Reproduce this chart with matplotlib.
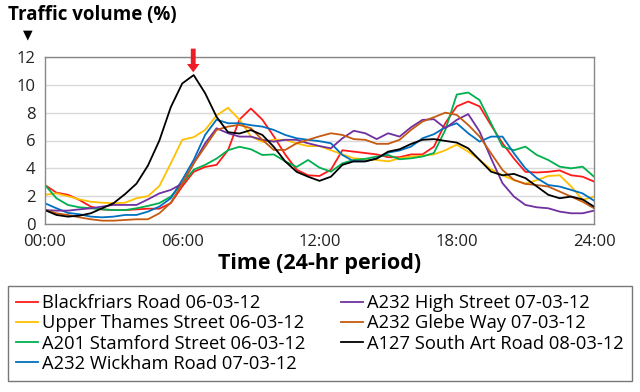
import numpy as np
import matplotlib
matplotlib.use("Agg")
import matplotlib.pyplot as plt

plt.rcParams['font.family'] = ['Open Sans', 'DejaVu Sans']

hours = np.arange(0, 24.01, 0.5)

names = ["Blackfriars Road 06-03-12", "Upper Thames Street 06-03-12",
         "A201 Stamford Street 06-03-12", "A232 Wickham Road 07-03-12",
         "A232 High Street 07-03-12", "A232 Glebe Way 07-03-12",
         "A127 South Art Road 08-03-12"]
colors = ["#ff1a1a", "#ffc000", "#00b050", "#0070c0", "#7030a0", "#c55a11", "#000000"]

red = [2.8, 2.25, 2.1, 1.73, 1.25, 1.05, 1.0, 1.0, 1.05, 1.1, 1.1, 1.5, 2.7, 3.75, 4.1, 4.25,
       5.3, 7.5, 8.3, 7.5, 6.3, 5.0, 3.9, 3.5,
       3.45, 3.9, 5.3, 5.2, 5.1, 5.0, 4.8, 4.8, 5.0, 5.0, 5.55, 7.25, 8.45, 8.8, 8.45, 7.1,
       5.8, 4.7, 3.75, 3.7, 3.75, 3.85, 3.5, 3.4, 3.05]
yellow = [2.1, 2.2, 2.0, 1.77, 1.6, 1.53, 1.49, 1.53, 1.85, 2.0, 2.73, 4.36, 6.05, 6.24, 6.76,
          7.8, 8.35, 7.5, 6.3, 5.9, 6.05, 6.05, 5.8, 5.6,
          5.6, 5.3, 5.0, 4.72, 4.65, 4.6, 4.5, 4.72, 4.85, 4.9, 5.0, 5.3, 5.7, 5.2, 4.6, 3.93,
          3.5, 3.15, 2.9, 3.15, 3.45, 3.5, 2.7, 1.73, 1.97]
green = [2.8, 1.85, 1.37, 1.2, 1.13, 1.05, 1.0, 1.0, 1.13, 1.3, 1.5, 1.97, 2.9, 3.9, 4.25, 4.7,
         5.3, 5.55, 5.37, 4.96, 5.0, 4.5, 4.1, 4.6,
         4.05, 3.76, 4.36, 4.6, 4.68, 4.85, 4.96, 4.65, 4.72, 4.85, 5.1, 6.76, 9.3, 9.45, 8.9,
         7.24, 5.56, 5.3, 5.56, 4.96, 4.6, 4.12, 4.0, 4.12, 3.4]
blue = [1.49, 1.13, 0.8, 0.7, 0.53, 0.48, 0.53, 0.65, 0.65, 0.89, 1.25, 1.85, 3.17, 4.6, 6.4,
        7.5, 7.24, 7.24, 7.1, 7.0, 6.76, 6.4, 6.16, 6.05,
        5.95, 5.8, 4.96, 4.5, 4.5, 4.72, 5.13, 5.28, 5.56, 6.16, 6.45, 6.95, 7.24, 6.52, 5.92,
        6.28, 6.28, 5.08, 4.0, 3.3, 2.8, 2.69, 2.45, 2.2, 1.68]
purple = [1.0, 0.96, 0.96, 1.05, 1.13, 1.25, 1.37, 1.37, 1.37, 1.77, 2.2, 2.45, 2.9, 4.36, 5.8,
          6.88, 6.52, 6.28, 6.28, 6.05, 5.92, 6.05, 6.05, 5.8,
          5.6, 5.44, 6.16, 6.7, 6.52, 6.1, 6.52, 6.28, 6.95, 7.48, 7.53, 6.88, 7.48, 7.9, 6.64,
          4.72, 2.93, 1.97, 1.37, 1.2, 1.13, 0.89, 0.77, 0.77, 0.96]
brown = [1.0, 0.77, 0.65, 0.48, 0.34, 0.24, 0.24, 0.29, 0.34, 0.34, 0.77, 1.53, 2.9, 4.36, 5.56,
         6.76, 7.0, 7.12, 6.88, 6.05, 5.32, 5.32, 5.8, 6.05,
         6.3, 6.52, 6.4, 6.1, 6.05, 5.76, 5.76, 6.05, 6.76, 7.36, 7.67, 8.0, 7.84, 7.12, 6.28,
         5.08, 3.88, 3.17, 2.88, 2.8, 2.69, 2.33, 1.97, 1.6, 1.13]
black = [1.0, 0.65, 0.53, 0.6, 0.77, 1.13, 1.5, 2.15, 2.9, 4.2, 6.0, 8.4, 10.1, 10.7, 9.4, 7.7,
         6.6, 6.5, 6.75, 6.4, 5.55, 4.5, 3.75, 3.4,
         3.1, 3.4, 4.25, 4.5, 4.5, 4.7, 5.2, 5.37, 5.75, 6.05, 6.1, 5.97, 5.85, 5.44, 4.6, 3.76,
         3.5, 3.6, 3.3, 2.7, 2.1, 1.85, 1.97, 1.77, 1.25]

series = [red, yellow, green, blue, purple, brown, black]

xticks = [0, 6, 12, 18, 24]
xticklabels = ["00:00", "06:00", "12:00", "18:00", "24:00"]
yticks = [0, 2, 4, 6, 8, 10, 12]

fig = plt.figure(figsize=(6.4, 3.92), dpi=100)
ax = fig.add_axes([45/640, 1-224/392, (594-45)/640, (224-57)/392])

for vals, c, n in zip(series, colors, names):
    ax.plot(hours, vals, color=c, lw=1.3, label=n)

ax.set_xlim(0, 24)
ax.set_ylim(0, 12)
ax.set_xticks(xticks)
ax.set_xticklabels(xticklabels)
ax.set_yticks(yticks)
ax.tick_params(length=0, labelsize=12, colors='#222222')
ax.tick_params(axis='x', pad=7)
ax.tick_params(axis='y', pad=7)
ax.grid(axis='y', color='#d9d9d9', lw=1)
ax.set_axisbelow(True)
for s in ax.spines.values():
    s.set_color('#888888')
    s.set_linewidth(1)

ax.set_xlabel("Time (24-hr period)", fontsize=15.5, fontweight='bold', labelpad=2)

fig.text(8/640, 1-5/392, "Traffic volume (%)", fontsize=13.5, fontweight='bold',
         ha='left', va='top')
fig.text(28/640, 1-35/392, "▼", fontsize=9, ha='center', va='center',
         family='DejaVu Sans')

ax.annotate("", xy=(6.48, 10.9), xytext=(6.48, 12.6),
            arrowprops=dict(arrowstyle='simple,head_width=0.9,head_length=0.6,tail_width=0.35',
                            color='#ee1c25', lw=0, shrinkA=0, shrinkB=0),
            annotation_clip=False)

leg = fig.legend(loc='lower left', bbox_to_anchor=(8/640, 1-381/392, 624/640, 98/392),
                 mode='expand', ncol=2, fontsize=13.2, frameon=True, fancybox=False,
                 handlelength=1.2, handletextpad=0.2, labelspacing=0.12,
                 borderpad=0.45, borderaxespad=0)
leg.get_frame().set_edgecolor('#555555')
leg.get_frame().set_linewidth(1)

fig.savefig("out.png", dpi=100)
